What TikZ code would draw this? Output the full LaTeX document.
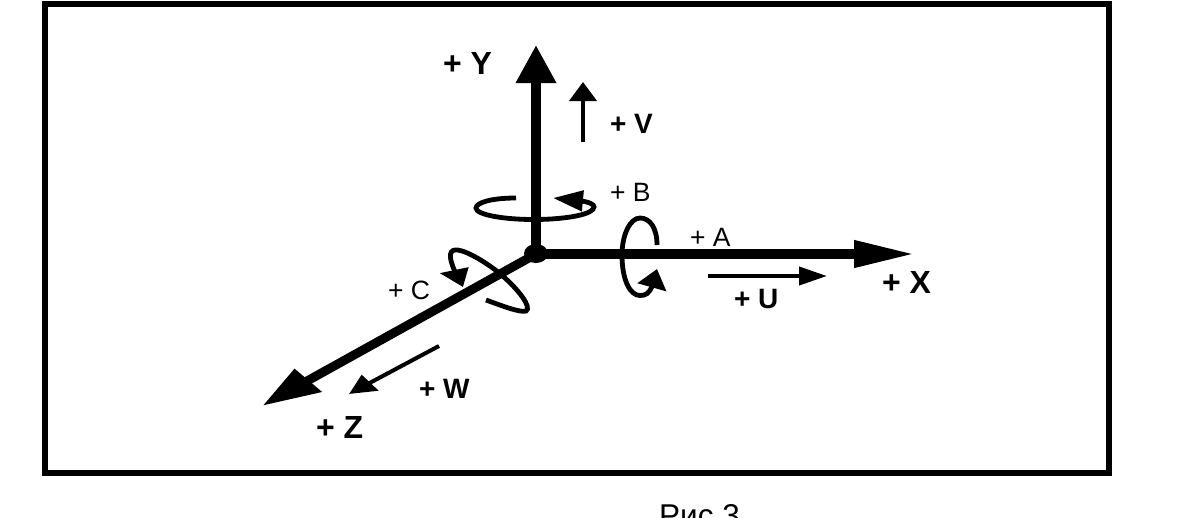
\documentclass[tikz,border=0pt]{standalone}
\usepackage{fontspec}
\setmainfont{Liberation Sans}
\usetikzlibrary{arrows.meta,bending,shapes.geometric}
\tikzset{
  frame/.style={draw=black,line width=6pt,fill=none},
  axisline/.style={draw=black,line width=10pt},
  motion/.style={draw=black,line width=4pt},
  spin/.style={draw=black,line width=4.8pt},
  boldlabel/.style={anchor=base west,inner sep=0pt,outer sep=0pt,font=\fontsize{32}{32}\selectfont\bfseries},
  midlabel/.style={boldlabel,font=\fontsize{28}{28}\selectfont\bfseries},
  lightlabel/.style={anchor=base west,inner sep=0pt,outer sep=0pt,font=\fontsize{26.5}{26.5}\selectfont},
}
\begin{document}
\begin{tikzpicture}[x=1pt,y=-1pt]
\useasboundingbox (0,0) rectangle (1182,517);
\fill[white] (0,0) rectangle (1182,517);
\draw[frame] (45,3.5) rectangle (1108.5,473);
% free ends
\coordinate (Ytip) at (536,45);
\coordinate (Xtip) at (916,254);
\coordinate (Ztip) at (262,406);
\coordinate (Vs) at (583,142); \coordinate (Ve) at (583,82);
\coordinate (Us) at (708,276); \coordinate (Ue) at (827,276);
\coordinate (Ws) at (439,346); \coordinate (We) at (349,394);
\node[draw=none,fill=black,ellipse,minimum width=24pt,minimum height=19pt,inner sep=0pt] (O) at (536,253.5) {};
\coordinate (Oc) at (536,254);
% axes
\draw[axisline,-{Triangle[length=38pt,width=38pt]}] (Oc) -- (Ytip);
\draw[axisline,-{Triangle[length=62pt,width=25pt]}] (Oc) -- (Xtip);
\draw[axisline,line width=9pt,-{Triangle[length=53pt,width=31pt,slant=-0.38]}] (Oc) -- (Ztip);
% motions
\draw[motion,-{Triangle[length=19pt,width=27pt]}] (Vs) -- (Ve);
\draw[motion,-{Triangle[length=28pt,width=18pt]}] (Us) -- (Ue);
\draw[motion,-{Triangle[length=24pt,width=21pt,slant=-0.34]}] (Ws) -- (We);
% spins
\draw[spin,-{Triangle[length=30pt,width=20pt]}] (516,198) .. controls (490,198) and (476,203) .. (476,208) .. controls (476,215) and (505,219.5) .. (533,219.5) .. controls (568,219.5) and (594,214) .. (594,207) .. controls (594,203) and (585,200) .. (553,198);
\draw[spin,-{Triangle[length=19pt,width=29pt]}] (657,245) .. controls (657,228) and (650,218) .. (640,218) .. controls (630,218) and (622,235) .. (622,255) .. controls (622,280) and (630,295.5) .. (640,295.5) .. controls (648,295.5) and (652,292) .. (657,269);
\draw[spin,-{Triangle[length=19pt,width=27pt,slant=0.28]}] (486,300) .. controls (500,305) and (520,313) .. (526,311) .. controls (532,308) and (520,290) .. (498,272) .. controls (480,258) and (462,249) .. (455,250) .. controls (445,251) and (453,270) .. (463,287);
% labels
\node[boldlabel] (ly) at (443,74) {+ Y};
\node[boldlabel] (lx) at (882,293) {+ X};
\node[boldlabel] (lz) at (316,438) {+ Z};
\node[midlabel] (lv) at (610,133) {+ V};
\node[midlabel] (lu) at (734,308) {+ U};
\node[midlabel] (lw) at (419,398) {+ W};
\node[lightlabel] (la) at (690,246) {+ A};
\node[lightlabel] (lb) at (610,201) {+ B};
\node[lightlabel] (lc) at (388,299) {+ C};
\node[anchor=base west,inner sep=0pt,font=\fontsize{31.5}{31.5}\selectfont] (cap) at (659,526) {Рис 3};
\end{tikzpicture}
\end{document}
